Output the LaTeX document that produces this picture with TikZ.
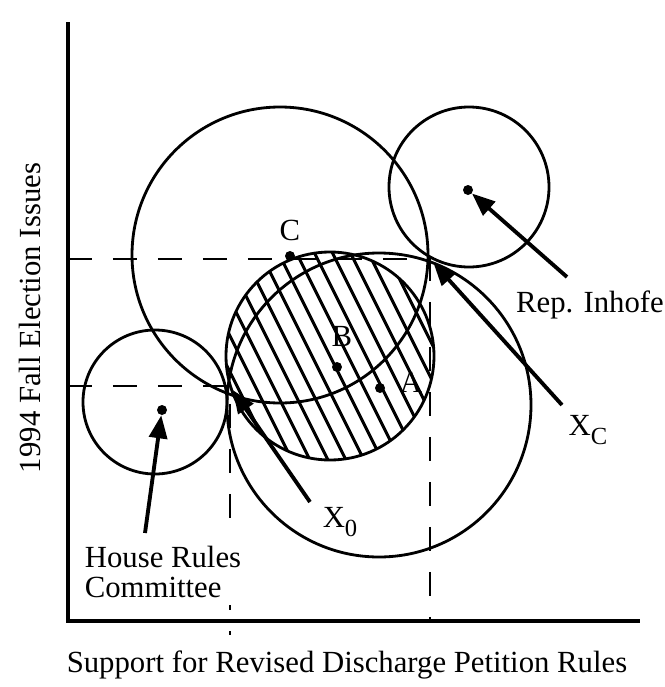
\documentclass[tikz,border=0pt]{standalone}
\usepackage{fontspec}
\setmainfont{Liberation Serif}
\usetikzlibrary{arrows.meta}
\newcommand{\lowsub}[1]{\raisebox{-0.6ex}{\fontsize{14}{14}\selectfont #1}}

\begin{document}
\begin{tikzpicture}[x = 0.02cm, y = -0.02cm,
    every node/.style = {font = \fontsize{17.5}{17.5}\selectfont},
    ring/.style = {line width = 1.6pt},
    guide/.style = {line width = 1.7pt, dash pattern = on 0.48cm off 0.42cm},
    pointer/.style = {line width = 2.2pt, -{Triangle[length = 0.46cm, width = 0.36cm]}},
    spot/.style = {circle, fill, inner sep = 0pt, minimum size = 0.2cm}]
    \useasboundingbox (0, 0) rectangle (665, 687);
    \coordinate (top) at (68, 22);
    \coordinate (origin) at (68, 621);
    \coordinate (right) at (640, 621);
    \coordinate (x0) at (230, 386);
    \coordinate (xc) at (430, 259);
    \begin{scope}
        \clip (330, 356) circle [radius = 104];
        \foreach \i in {-7, ..., 7}
            \draw[line width = 1.7pt] ({330 + 18*\i - 65}, 226) -- ({330 + 18*\i + 65}, 486);
    \end{scope}
    \draw[ring] (330, 356) circle [radius = 104];
    \draw[ring] (280, 255) circle [radius = 148];
    \draw[ring] (379, 405) circle [radius = 152];
    \draw[ring] (155, 402) circle [radius = 72];
    \draw[ring] (469, 187) circle [radius = 80];
    \node[spot] (C) at (290, 256) {};
    \node[spot] (B) at (337, 367) {};
    \node[spot] (A) at (380, 388) {};
    \node[spot] (house) at (162, 410) {};
    \node[spot] (inhofe) at (468, 190) {};
    \node (C label) at (290, 230) {C};
    \node (B label) at (342, 336) {B};
    \node (A label) at (411, 382) {A};
    \node (inhofe label) at (590, 305) {Rep. Inhofe};
    \node (xc label) at (588, 430) {X\lowsub{C}};
    \node (x0 label) at (340, 522) {X\lowsub{0}};
    \node[align = left] (house label) at (163, 572) {House Rules \\ Committee};
    \node[rotate = 90] (y label) at (30, 318) {1994 Fall Election Issues};
    \node (x label) at (347, 665) {Support for Revised Discharge Petition Rules};
    \coordinate (inhofe tail) at (567, 277);
    \coordinate (xc tail) at (562, 405);
    \coordinate (x0 tail) at (310, 502);
    \coordinate (house tail) at (145, 533);
    \draw[guide] (origin |- xc) -- (xc) -- (xc |- origin);
    \draw[guide] (origin |- x0) -- (x0) -- (x0 |- house tail);
    \draw[line width = 1.7pt] (x0 |- origin) ++(0, -16) -- ++(0, 5);
    \draw[line width = 1.7pt] (x0 |- origin) ++(0, 10) -- ++(0, 4);
    \draw[line width = 1.8pt] (top) -- (origin) -- (right);
    \draw[pointer] (inhofe tail) -- (inhofe);
    \draw[pointer, shorten > = 0.1cm] (xc tail) -- (xc);
    \draw[pointer, shorten > = 0.1cm] (x0 tail) -- (x0);
    \draw[pointer] (house tail) -- (house);
\end{tikzpicture}
\end{document}
